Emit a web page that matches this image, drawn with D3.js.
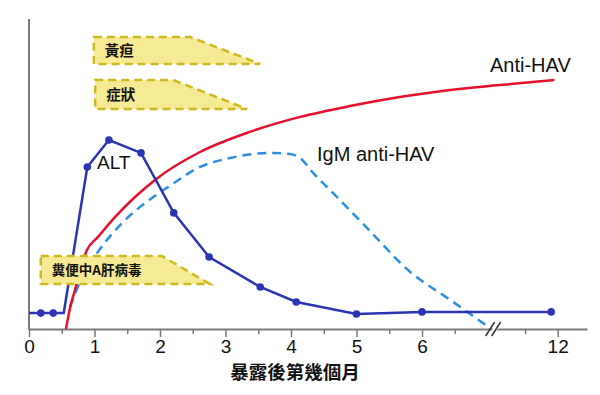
<!DOCTYPE html>
<html><head><meta charset="utf-8">
<script src="https://cdn.jsdelivr.net/npm/d3@7"></script>
<style>
html,body{margin:0;padding:0;background:#fff;}
svg{display:block;}
</style></head>
<body>
<svg id="chart" width="600" height="395"></svg>
<script>
// ---- data ----
const majorTicks = [0, 1, 2, 3, 4, 5, 6, 12];
const minorTicks = [0.5, 1.5, 2.5, 3.5, 4.5, 5.5, 6.5, 11.5];
const xTitle = "暴露後第幾個月";

const altMonths = [0, 0.18, 0.37, 0.53, 0.89, 1.22, 1.71, 2.21, 2.75, 3.53, 4.08, 5.0, 6.0, 11.9];
const altValues = [5.3, 5.3, 5.3, 5.3, 54, 63, 58.7, 38.7, 24, 14, 9, 5, 5.7, 5.7];
const altDots   = [false, true, true, false, true, true, true, true, true, true, true, true, true, true];

const antiMonths = [0.565, 0.626, 0.702, 0.885, 1.053, 1.313, 1.618, 1.924, 2.61, 3.37, 4.14, 4.90, 5.66, 6.43, 11.11, 11.95];
const antiValues = [0, 7, 13, 26.3, 30.7, 37.3, 44, 49.7, 59, 65.7, 70.7, 74.3, 77.3, 79.7, 81.3, 83];

const igmMonths = [0.626, 0.779, 1.053, 1.42, 1.878, 2.122, 2.61, 3.07, 3.68, 3.98, 4.14, 4.34, 4.70, 5.16, 5.82, 6.43, 7.04];
const igmValues = [7.3, 15.7, 25.7, 35.3, 43.7, 47.3, 54, 57, 58.7, 58.3, 57, 52, 44, 33.7, 19, 9.7, 0.3];

const periodLabels = ["黃疸", "症狀", "糞便中A肝病毒"];
const periodStart  = [0.99, 1.01, 0.18];
const periodPlateau= [2.46, 2.20, 2.03];
const periodEnd    = [3.53, 3.33, 2.76];

const seriesLabels = ["Anti-HAV", "IgM anti-HAV", "ALT"];

// ---- layout ----
const svg = d3.select("#chart");
const x = d3.scaleLinear().domain([0, 7.05, 11, 12.45]).range([29, 490.8, 492.5, 587]);
const y = d3.scaleLinear().domain([0, 100]).range([329, 29]);
const axisColor = "#7a7a7a";
const fontLatin = "'Liberation Sans', Arial, Helvetica, sans-serif";
const fontCJK = "'Noto Sans CJK TC', 'Noto Sans CJK SC', sans-serif";

// axes
const xAxis = d3.axisBottom(x).tickValues(majorTicks).tickSize(8).tickSizeOuter(0).tickPadding(3)
  .tickFormat(d => d);
const gx = svg.append("g").attr("transform", `translate(0,${y(0)})`).call(xAxis);
gx.select(".domain").attr("stroke", axisColor).attr("stroke-width", 2);
gx.selectAll(".tick line").attr("stroke", axisColor).attr("stroke-width", 1.5);
gx.selectAll(".tick text").attr("font-family", fontLatin).attr("font-size", 19).attr("fill", "#111");
const gxm = svg.append("g").attr("transform", `translate(0,${y(0)})`)
  .call(d3.axisBottom(x).tickValues(minorTicks).tickSize(5).tickSizeOuter(0).tickFormat(""));
gxm.select(".domain").remove();
gxm.selectAll(".tick line").attr("stroke", axisColor).attr("stroke-width", 1.5);

svg.append("line")
  .attr("x1", x(0)).attr("x2", x(0))
  .attr("y1", y(0) + 1).attr("y2", y(103.3))
  .attr("stroke", axisColor).attr("stroke-width", 2);

svg.append("text")
  .attr("x", 295).attr("y", 379)
  .attr("text-anchor", "middle")
  .attr("font-family", fontCJK)
  .attr("font-weight", "bold")
  .attr("font-size", 18.5)
  .attr("fill", "#111")
  .text(xTitle);

// IgM dashed
const lineCurve = d3.line().x(d => x(d[0])).y(d => y(d[1])).curve(d3.curveMonotoneX);
svg.append("path")
  .attr("d", lineCurve(d3.zip(igmMonths, igmValues)))
  .attr("fill", "none").attr("stroke", "#2a8fe4").attr("stroke-width", 2.5)
  .attr("stroke-dasharray", "9,6");

// Anti-HAV
svg.append("path")
  .attr("d", lineCurve(d3.zip(antiMonths, antiValues)))
  .attr("fill", "none").attr("stroke", "#e60f2d").attr("stroke-width", 2.5);

// break marks
const bx = (x(7.05) + x(11)) / 2;
const gb = svg.append("g").attr("transform", `translate(${bx},${y(0)})`);
gb.append("path").attr("d", "M-3,6 L5,-6 L10,-6 L2,6 Z").attr("fill", "#fff");
gb.append("line").attr("x1", -6).attr("y1", 7).attr("x2", 3).attr("y2", -7).attr("stroke", "#333").attr("stroke-width", 1.5);
gb.append("line").attr("x1", 0).attr("y1", 7).attr("x2", 9).attr("y2", -7).attr("stroke", "#333").attr("stroke-width", 1.5);

// ALT
const altData = d3.zip(altMonths, altValues, altDots);
svg.append("path")
  .attr("d", d3.line().x(d => x(d[0])).y(d => y(d[1]))(altData))
  .attr("fill", "none").attr("stroke", "#2b35b3").attr("stroke-width", 2.5);
svg.append("g").selectAll("circle").data(altData.filter(d => d[2])).join("circle")
  .attr("cx", d => x(d[0])).attr("cy", d => y(d[1])).attr("r", 3.8)
  .attr("fill", "#2b35b3");

// period boxes (drawn above the lines)
const boxRows = [[37, 64], [80, 109], [256, 284]];
const boxFonts = [14.5, 14.5, 13.5];
const gBoxes = svg.append("g");
periodLabels.forEach((lab, i) => {
  const [t, b] = boxRows[i];
  const pts = [[x(periodStart[i]), t], [x(periodPlateau[i]), t], [x(periodEnd[i]), b], [x(periodStart[i]), b]];
  gBoxes.append("path")
    .attr("d", d3.line()(pts) + "Z")
    .attr("fill", "#f6ea94")
    .attr("stroke", "#cdb91e")
    .attr("stroke-width", 2.5)
    .attr("stroke-dasharray", "8,5");
  gBoxes.append("text")
    .attr("x", x(periodStart[i]) + 11)
    .attr("y", (t + b) / 2 + boxFonts[i] * 0.36)
    .attr("font-family", fontCJK)
    .attr("font-weight", "bold")
    .attr("font-size", boxFonts[i])
    .attr("fill", "#111")
    .text(lab);
});

// series labels
const labelPos = [[490, 72], [317, 161], [97, 169]];
const labelSize = [20, 20, 19];
seriesLabels.forEach((s, i) => {
  svg.append("text")
    .attr("x", labelPos[i][0]).attr("y", labelPos[i][1])
    .attr("font-family", fontLatin).attr("font-size", labelSize[i]).attr("fill", "#111")
    .text(s);
});
</script>
</body></html>
